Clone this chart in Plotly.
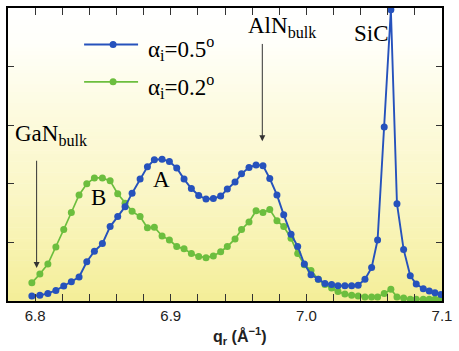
import plotly.graph_objects as go

# ---- data ----
q_r = [6.7976, 6.8035, 6.8094, 6.8153, 6.8211, 6.8267, 6.8324, 6.8381, 6.8437, 6.8496,
       6.8553, 6.8609, 6.8663, 6.8715, 6.8774, 6.8828, 6.8879, 6.8936, 6.8990, 6.9044,
       6.9098, 6.9152, 6.9206, 6.9260, 6.9314, 6.9368, 6.9417, 6.9474, 6.9522, 6.9577,
       6.9629, 6.9680, 6.9730, 6.9783, 6.9833, 6.9887, 6.9936, 6.9985, 7.0034, 7.0088,
       7.0137, 7.0186, 7.0233, 7.0284, 7.0334, 7.0382, 7.0432, 7.0481, 7.0525, 7.0574,
       7.0623, 7.0668, 7.0717, 7.0766, 7.0810, 7.0862, 7.0906, 7.0948, 7.0992]

alpha_05 = [0.085, 0.097, 0.13, 0.18, 0.256, 0.33, 0.41, 0.67, 0.85, 0.98,
            1.27, 1.44, 1.61, 1.84, 2.08, 2.29, 2.41, 2.42, 2.38, 2.27,
            2.08, 1.92, 1.80, 1.74, 1.75, 1.79, 1.91, 2.03, 2.17, 2.28,
            2.32, 2.31, 2.09, 1.81, 1.47, 1.14, 0.93, 0.63, 0.45, 0.37,
            0.30, 0.28, 0.26, 0.26, 0.26, 0.27, 0.37, 0.57, 1.04, 2.97,
            4.97, 1.66, 0.88, 0.43, 0.29, 0.21, 0.17, 0.14, 0.11]

alpha_02 = [0.31, 0.46, 0.63, 0.92, 1.22, 1.51, 1.81, 2.00, 2.10, 2.10,
            2.05, 1.83, 1.67, 1.53, 1.44, 1.25, 1.26, 1.11, 1.04, 0.93,
            0.89, 0.81, 0.76, 0.74, 0.77, 0.84, 0.93, 1.06, 1.22, 1.35,
            1.54, 1.51, 1.56, 1.37, 1.27, 1.07, 0.81, 0.62, 0.52, 0.37,
            0.28, 0.22, 0.16, 0.12, 0.10, 0.085, 0.07, 0.07, 0.07, 0.13,
            0.20, 0.07, 0.05, 0.03, 0.03, 0.03, 0.03, 0.03, 0.03]

x_tick_vals = [6.8, 6.82, 6.84, 6.86, 6.88, 6.9, 6.92, 6.94, 6.96, 6.98,
               7.0, 7.02, 7.04, 7.06, 7.08, 7.1]
x_tick_labels = ["6.8", "", "", "", "", "6.9", "", "", "", "", "7.0", "", "", "", "", "7.1"]
y_tick_vals = [0, 1, 2, 3, 4, 5]

BLUE = "rgb(38,82,188)"
GREEN = "rgb(108,190,62)"

# pixel -> data helpers (for placing annotations)
X0, XPX = 6.8, 35.0
XS = 1357.0
YB, YS = 301.0, 58.7


def qx(px):
    return X0 + (px - XPX) / XS


def vy(py):
    return (YB - py) / YS


fig = go.Figure()
fig.add_trace(go.Scatter(x=q_r, y=alpha_02, mode="lines+markers",
                         line=dict(color=GREEN, width=1.7),
                         marker=dict(color=GREEN, size=7), showlegend=False))
fig.add_trace(go.Scatter(x=q_r, y=alpha_05, mode="lines+markers",
                         line=dict(color=BLUE, width=1.9),
                         marker=dict(color=BLUE, size=7), showlegend=False))

# background gradient (white top -> pale yellow bottom)
stops = [(0.0, (255, 255, 255)), (0.12, (255, 255, 250)), (0.35, (253, 251, 224)),
         (0.65, (250, 246, 196)), (1.0, (244, 238, 152))]


def col(t):
    for (t0, c0), (t1, c1) in zip(stops[:-1], stops[1:]):
        if t0 <= t <= t1:
            f = (t - t0) / (t1 - t0)
            return "rgb(%d,%d,%d)" % tuple(round(a + (b - a) * f) for a, b in zip(c0, c1))
    return "rgb(%d,%d,%d)" % stops[-1][1]


shapes = []
N = 80
for i in range(N):
    t = (i + 0.5) / N
    shapes.append(dict(type="rect", xref="paper", yref="paper", x0=0, x1=1,
                       y0=1 - (i + 1) / N, y1=1 - i / N + 0.002,
                       fillcolor=col(t), line=dict(width=0), layer="below"))

# legend lines and markers
for py, c in [(44, BLUE), (81.5, GREEN)]:
    shapes.append(dict(type="line", xref="x", yref="y", x0=qx(84), x1=qx(138),
                       y0=vy(py), y1=vy(py), line=dict(color=c, width=1.9)))
    shapes.append(dict(type="circle", xref="x", yref="y", xsizemode="pixel", ysizemode="pixel",
                       xanchor=qx(113), yanchor=vy(py), x0=-3.5, x1=3.5, y0=-3.5, y1=3.5,
                       fillcolor=c, line=dict(width=0)))

serif = dict(family="Liberation Serif, Times New Roman, serif", size=23, color="black")
ann = []


def txt(s, px, py, xanchor="left"):
    ann.append(dict(text=s, x=qx(px), y=vy(py), xref="x", yref="y", showarrow=False,
                    xanchor=xanchor, yanchor="middle", font=serif))


txt("α<sub>i</sub>=0.5<sup>o</sup>", 146, 48)
txt("α<sub>i</sub>=0.2<sup>o</sup>", 146, 86)
txt("GaN<sub>bulk</sub>", 13, 135)
txt("AlN<sub>bulk</sub>", 246, 27)
txt("SiC", 352, 33)
txt("A", 161, 179, "center")
txt("B", 98, 197, "center")

# arrows
for px, py0, py1 in [(36.5, 159, 268), (262.3, 42, 141)]:
    ann.append(dict(text="", x=qx(px), y=vy(py1), ax=qx(px), ay=vy(py0),
                    xref="x", yref="y", axref="x", ayref="y", showarrow=True,
                    arrowhead=2, arrowsize=1.2, arrowwidth=1, arrowcolor="#333"))

# x-axis title
ann.append(dict(text="<b>q<sub>r</sub> (Å<sup>−1</sup>)</b>",
                x=(240 - 8) / 434, y=(301 - 336) / 293.5,
                xref="paper", yref="paper", xanchor="center", yanchor="middle",
                showarrow=False,
                font=dict(size=16, family="Liberation Sans, Arial, sans-serif", color="#222")))

fig.update_layout(
    width=459, height=351,
    margin=dict(l=8, r=17, t=8, b=50, autoexpand=False),
    paper_bgcolor="white", plot_bgcolor="rgba(0,0,0,0)",
    shapes=shapes, annotations=ann,
    showlegend=False,
)
fig.update_xaxes(range=[6.78, 7.1], tickmode="array", tickvals=x_tick_vals, ticktext=x_tick_labels,
                 ticks="inside", ticklen=7, tickwidth=1, tickcolor="#333",
                 showline=True, linecolor="black", linewidth=1.5, mirror="ticks",
                 showgrid=False, zeroline=False,
                 tickfont=dict(family="Liberation Sans, Arial, sans-serif", size=15, color="#222"))
fig.update_yaxes(range=[0, 5], tickmode="array", tickvals=y_tick_vals, showticklabels=False,
                 ticks="inside", ticklen=6, tickwidth=1, tickcolor="#333",
                 showline=True, linecolor="black", linewidth=1.5, mirror="ticks",
                 showgrid=False, zeroline=False)

fig.write_html("out.html")
